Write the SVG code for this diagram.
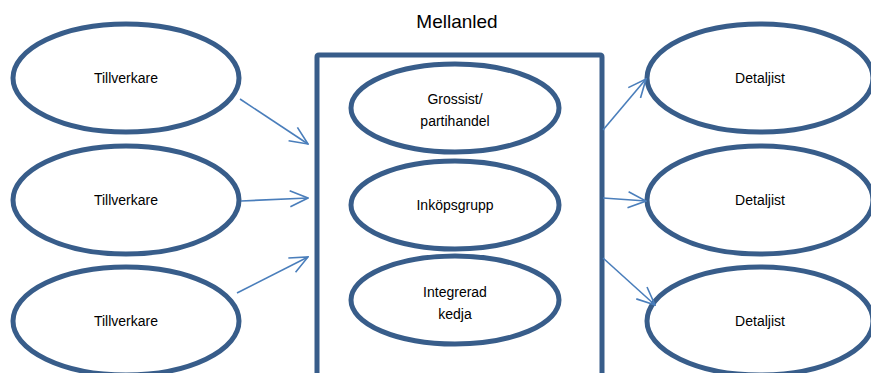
<svg xmlns="http://www.w3.org/2000/svg" width="871" height="373" viewBox="0 0 871 373">
  <style>
    .node { fill: #ffffff; stroke: #385d8a; stroke-width: 5; }
    .box { fill: none; stroke: #385d8a; stroke-width: 5; }
    .label { font-family: "Liberation Sans", Arial, sans-serif; font-size: 14px; fill: #000000; text-anchor: middle; dominant-baseline: central; }
    .title { font-family: "Liberation Sans", Arial, sans-serif; font-size: 19px; fill: #000000; text-anchor: middle; dominant-baseline: central; }
    .conn { fill: none; stroke: #4a7ebb; stroke-width: 1.6; marker-end: url(#open); }
  </style>
  <defs>
    <marker id="open" markerUnits="userSpaceOnUse" markerWidth="20" markerHeight="18" viewBox="0 0 20 18" refX="19" refY="9" orient="auto">
      <path d="M1,1 L19,9 L1,17" fill="none" stroke="#4a7ebb" stroke-width="1.6"/>
    </marker>
  </defs>

  <rect width="871" height="373" fill="#ffffff"/>

  <!-- Intermediary frame -->
  <g id="mellanled">
    <text class="title" x="457" y="21">Mellanled</text>
    <path class="box" d="M317,380 L317,57 Q317,55 319,55 L600,55 Q602,55 602,57 L602,380"/>
  </g>

  <!-- Manufacturers -->
  <g id="tillverkare1">
    <ellipse class="node" cx="126" cy="78" rx="113" ry="54"/>
    <text class="label" x="126" y="78">Tillverkare</text>
  </g>
  <g id="tillverkare2">
    <ellipse class="node" cx="126" cy="200" rx="113" ry="54"/>
    <text class="label" x="126" y="200">Tillverkare</text>
  </g>
  <g id="tillverkare3">
    <ellipse class="node" cx="126" cy="321" rx="113" ry="54"/>
    <text class="label" x="126" y="321">Tillverkare</text>
  </g>

  <!-- Intermediaries -->
  <g id="grossist">
    <ellipse class="node" cx="455" cy="108" rx="104" ry="44"/>
    <text class="label" x="455" y="99">Grossist/</text>
    <text class="label" x="455" y="121">partihandel</text>
  </g>
  <g id="inkopsgrupp">
    <ellipse class="node" cx="455" cy="205" rx="104" ry="44"/>
    <text class="label" x="455" y="205">Inköpsgrupp</text>
  </g>
  <g id="integrerad">
    <ellipse class="node" cx="455" cy="300" rx="104" ry="44"/>
    <text class="label" x="455" y="292">Integrerad</text>
    <text class="label" x="455" y="314">kedja</text>
  </g>

  <!-- Retailers -->
  <g id="detaljist1">
    <ellipse class="node" cx="760" cy="78" rx="113" ry="54"/>
    <text class="label" x="760" y="78">Detaljist</text>
  </g>
  <g id="detaljist2">
    <ellipse class="node" cx="760" cy="200" rx="113" ry="54"/>
    <text class="label" x="760" y="200">Detaljist</text>
  </g>
  <g id="detaljist3">
    <ellipse class="node" cx="760" cy="321" rx="113" ry="54"/>
    <text class="label" x="760" y="321">Detaljist</text>
  </g>

  <!-- Connectors -->
  <g id="connectors">
    <line class="conn" x1="240" y1="99" x2="308" y2="144"/>
    <line class="conn" x1="241" y1="201" x2="308" y2="198"/>
    <line class="conn" x1="237" y1="293" x2="308" y2="257"/>
    <line class="conn" x1="603" y1="130" x2="646" y2="79"/>
    <line class="conn" x1="603" y1="198" x2="646" y2="201"/>
    <line class="conn" x1="603" y1="258" x2="655" y2="305"/>
  </g>
</svg>
